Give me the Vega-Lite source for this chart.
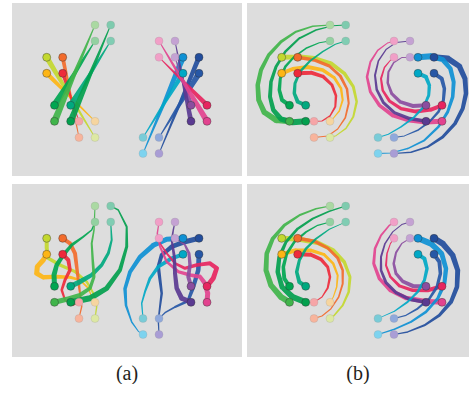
{
"$schema":"https://vega.github.io/schema/vega-lite/v6.json",
"padding":{"left":12,"top":3,"right":0,"bottom":0},
"config":{"view":{"fill":"#dddddd","stroke":null}},
"datasets":{
"nodes":[
{"id":"A","k":"s","x":34.7,"y":54.3},{"id":"B","k":"s","x":50.7,"y":54.3},{"id":"C","k":"s","x":34.7,"y":70.3},{"id":"D","k":"s","x":50.7,"y":70.3},
{"id":"E","k":"s","x":42.5,"y":102.3},{"id":"F","k":"s","x":58.7,"y":102.3},{"id":"G","k":"s","x":42.5,"y":118.3},{"id":"H","k":"s","x":58.7,"y":118.3},
{"id":"a","k":"f","x":83,"y":134.5},{"id":"b","k":"f","x":67,"y":134.5},{"id":"c","k":"f","x":83,"y":118.3},{"id":"d","k":"f","x":67,"y":118.3},
{"id":"e","k":"f","x":83,"y":38},{"id":"f","k":"f","x":98.7,"y":38},{"id":"g","k":"f","x":83,"y":22},{"id":"h","k":"f","x":98.7,"y":22},
{"id":"I","k":"s","x":171,"y":54.3},{"id":"J","k":"s","x":187,"y":54.3},{"id":"K","k":"s","x":171,"y":70.3},{"id":"L","k":"s","x":187,"y":70.3},
{"id":"M","k":"s","x":179,"y":102.3},{"id":"N","k":"s","x":195,"y":102.3},{"id":"O","k":"s","x":179,"y":118.3},{"id":"P","k":"s","x":195,"y":118.3},
{"id":"i","k":"f","x":131,"y":150.5},{"id":"j","k":"f","x":147,"y":150.5},{"id":"k","k":"f","x":131,"y":134.5},{"id":"l","k":"f","x":147,"y":134.5},
{"id":"m","k":"f","x":163,"y":38},{"id":"n","k":"f","x":147,"y":38},{"id":"o","k":"f","x":163,"y":54.3},{"id":"p","k":"f","x":147,"y":54.3}
],
"edges":[
{"p":"TL","e":"A","o":0,"x":34.7,"y":54.3,"w":5.5},{"p":"TL","e":"A","o":1,"x":83,"y":134.5,"w":0.8},
{"p":"TL","e":"B","o":0,"x":50.7,"y":54.3,"w":4},{"p":"TL","e":"B","o":1,"x":67,"y":134.5,"w":0.8},
{"p":"TL","e":"C","o":0,"x":34.7,"y":70.3,"w":4.5},{"p":"TL","e":"C","o":1,"x":83,"y":118.3,"w":0.8},
{"p":"TL","e":"D","o":0,"x":50.7,"y":70.3,"w":3.5},{"p":"TL","e":"D","o":1,"x":67,"y":118.3,"w":0.8},
{"p":"TL","e":"E","o":0,"x":42.5,"y":102.3,"w":7},{"p":"TL","e":"E","o":1,"x":83,"y":38,"w":0.8},
{"p":"TL","e":"F","o":0,"x":58.7,"y":102.3,"w":6},{"p":"TL","e":"F","o":1,"x":98.7,"y":38,"w":0.8},
{"p":"TL","e":"G","o":0,"x":42.5,"y":118.3,"w":7},{"p":"TL","e":"G","o":1,"x":83,"y":22,"w":0.8},
{"p":"TL","e":"H","o":0,"x":58.7,"y":118.3,"w":6.5},{"p":"TL","e":"H","o":1,"x":98.7,"y":22,"w":0.8},
{"p":"TL","e":"I","o":0,"x":171,"y":54.3,"w":6},{"p":"TL","e":"I","o":1,"x":131,"y":150.5,"w":0.8},
{"p":"TL","e":"J","o":0,"x":187,"y":54.3,"w":5},{"p":"TL","e":"J","o":1,"x":147,"y":150.5,"w":0.8},
{"p":"TL","e":"K","o":0,"x":171,"y":70.3,"w":5},{"p":"TL","e":"K","o":1,"x":131,"y":134.5,"w":0.8},
{"p":"TL","e":"L","o":0,"x":187,"y":70.3,"w":6},{"p":"TL","e":"L","o":1,"x":147,"y":134.5,"w":0.8},
{"p":"TL","e":"M","o":0,"x":179,"y":102.3,"w":5},{"p":"TL","e":"M","o":1,"x":163,"y":54.3,"w":0.8},
{"p":"TL","e":"N","o":0,"x":195,"y":102.3,"w":5},{"p":"TL","e":"N","o":1,"x":147,"y":54.3,"w":0.8},
{"p":"TL","e":"O","o":0,"x":179,"y":118.3,"w":5},{"p":"TL","e":"O","o":1,"x":163,"y":38,"w":0.8},
{"p":"TL","e":"P","o":0,"x":195,"y":118.3,"w":6},{"p":"TL","e":"P","o":1,"x":147,"y":38,"w":0.8},

{"p":"TR","e":"A","o":0,"x":34.7,"y":54.3,"w":5},{"p":"TR","e":"A","o":1,"x":50.7,"y":53.7,"w":5},{"p":"TR","e":"A","o":2,"x":67.3,"y":55.3,"w":4.5},{"p":"TR","e":"A","o":3,"x":84,"y":60.3,"w":4},{"p":"TR","e":"A","o":4,"x":97.3,"y":70.3,"w":3.5},{"p":"TR","e":"A","o":5,"x":106.3,"y":83.7,"w":3},{"p":"TR","e":"A","o":6,"x":109.7,"y":98.7,"w":2.5},{"p":"TR","e":"A","o":7,"x":106.3,"y":113.7,"w":2},{"p":"TR","e":"A","o":8,"x":99,"y":125.3,"w":1.5},{"p":"TR","e":"A","o":9,"x":89,"y":132.7,"w":1},{"p":"TR","e":"A","o":10,"x":83,"y":134.5,"w":0.8},
{"p":"TR","e":"B","o":0,"x":50.7,"y":54.3,"w":3.5},{"p":"TR","e":"B","o":1,"x":67.3,"y":57,"w":3.5},{"p":"TR","e":"B","o":2,"x":82.3,"y":63,"w":3},{"p":"TR","e":"B","o":3,"x":93.3,"y":73,"w":3},{"p":"TR","e":"B","o":4,"x":100,"y":86,"w":2.5},{"p":"TR","e":"B","o":5,"x":101.7,"y":100.3,"w":2},{"p":"TR","e":"B","o":6,"x":98.3,"y":114.7,"w":1.6},{"p":"TR","e":"B","o":7,"x":90.7,"y":126,"w":1.2},{"p":"TR","e":"B","o":8,"x":80.7,"y":133,"w":1},{"p":"TR","e":"B","o":9,"x":67,"y":134.5,"w":0.8},
{"p":"TR","e":"C","o":0,"x":34.7,"y":70.3,"w":4},{"p":"TR","e":"C","o":1,"x":45.7,"y":66,"w":4},{"p":"TR","e":"C","o":2,"x":60.7,"y":64,"w":4},{"p":"TR","e":"C","o":3,"x":75.7,"y":67,"w":3.5},{"p":"TR","e":"C","o":4,"x":87.3,"y":74.7,"w":3},{"p":"TR","e":"C","o":5,"x":94,"y":85.3,"w":2.5},{"p":"TR","e":"C","o":6,"x":95.7,"y":97,"w":2},{"p":"TR","e":"C","o":7,"x":92.3,"y":108,"w":1.5},{"p":"TR","e":"C","o":8,"x":86.3,"y":115.3,"w":1},{"p":"TR","e":"C","o":9,"x":83,"y":118.3,"w":0.8},
{"p":"TR","e":"D","o":0,"x":50.7,"y":70.3,"w":4},{"p":"TR","e":"D","o":1,"x":64,"y":69.7,"w":4},{"p":"TR","e":"D","o":2,"x":76.3,"y":73.7,"w":3.5},{"p":"TR","e":"D","o":3,"x":85,"y":82,"w":3},{"p":"TR","e":"D","o":4,"x":89,"y":92.7,"w":2.5},{"p":"TR","e":"D","o":5,"x":88.3,"y":103.7,"w":2},{"p":"TR","e":"D","o":6,"x":83,"y":113,"w":1.5},{"p":"TR","e":"D","o":7,"x":75,"y":118,"w":1},{"p":"TR","e":"D","o":8,"x":67,"y":118.3,"w":0.8},
{"p":"TR","e":"E","o":0,"x":42.5,"y":102.3,"w":4},{"p":"TR","e":"E","o":1,"x":35,"y":97,"w":4},{"p":"TR","e":"E","o":2,"x":32.3,"y":87,"w":3.5},{"p":"TR","e":"E","o":3,"x":33.3,"y":75.3,"w":3},{"p":"TR","e":"E","o":4,"x":38.3,"y":63.7,"w":2.5},{"p":"TR","e":"E","o":5,"x":47.3,"y":53.7,"w":2},{"p":"TR","e":"E","o":6,"x":59,"y":45.3,"w":1.5},{"p":"TR","e":"E","o":7,"x":72.3,"y":39.7,"w":1},{"p":"TR","e":"E","o":8,"x":83,"y":38,"w":0.8},
{"p":"TR","e":"F","o":0,"x":58.7,"y":102.3,"w":4},{"p":"TR","e":"F","o":1,"x":50.7,"y":98.7,"w":4},{"p":"TR","e":"F","o":2,"x":47.3,"y":90.3,"w":3.5},{"p":"TR","e":"F","o":3,"x":48,"y":80.3,"w":3},{"p":"TR","e":"F","o":4,"x":53,"y":68.7,"w":2.5},{"p":"TR","e":"F","o":5,"x":63,"y":58,"w":2},{"p":"TR","e":"F","o":6,"x":75.7,"y":48.7,"w":1.5},{"p":"TR","e":"F","o":7,"x":88.3,"y":41.3,"w":1},{"p":"TR","e":"F","o":8,"x":98.7,"y":38,"w":0.8},
{"p":"TR","e":"G","o":0,"x":42.5,"y":118.3,"w":6},{"p":"TR","e":"G","o":1,"x":29,"y":117,"w":6},{"p":"TR","e":"G","o":2,"x":17.3,"y":109.3,"w":5.5},{"p":"TR","e":"G","o":3,"x":11.7,"y":97,"w":5},{"p":"TR","e":"G","o":4,"x":10.7,"y":82,"w":4.5},{"p":"TR","e":"G","o":5,"x":14,"y":67,"w":4},{"p":"TR","e":"G","o":6,"x":21.7,"y":52,"w":3.5},{"p":"TR","e":"G","o":7,"x":34,"y":38.7,"w":3},{"p":"TR","e":"G","o":8,"x":49,"y":28.7,"w":2},{"p":"TR","e":"G","o":9,"x":65.7,"y":23.3,"w":1.5},{"p":"TR","e":"G","o":10,"x":83,"y":22,"w":1},
{"p":"TR","e":"H","o":0,"x":58.7,"y":118.3,"w":6},{"p":"TR","e":"H","o":1,"x":45.7,"y":119.3,"w":6},{"p":"TR","e":"H","o":2,"x":34,"y":116,"w":5},{"p":"TR","e":"H","o":3,"x":26.3,"y":107,"w":4.5},{"p":"TR","e":"H","o":4,"x":23,"y":93.7,"w":4},{"p":"TR","e":"H","o":5,"x":24,"y":78.7,"w":3.5},{"p":"TR","e":"H","o":6,"x":29,"y":63.7,"w":3},{"p":"TR","e":"H","o":7,"x":38.3,"y":48.7,"w":2.5},{"p":"TR","e":"H","o":8,"x":52.3,"y":35.3,"w":2},{"p":"TR","e":"H","o":9,"x":69,"y":27,"w":1.5},{"p":"TR","e":"H","o":10,"x":85.7,"y":22.7,"w":1},{"p":"TR","e":"H","o":11,"x":98.7,"y":22,"w":0.8},
{"p":"TR","e":"P","o":0,"x":195,"y":118.3,"w":5},{"p":"TR","e":"P","o":1,"x":179,"y":118.9,"w":5},{"p":"TR","e":"P","o":2,"x":162.4,"y":117.3,"w":4.5},{"p":"TR","e":"P","o":3,"x":145.7,"y":112.3,"w":4},{"p":"TR","e":"P","o":4,"x":132.4,"y":102.3,"w":3.5},{"p":"TR","e":"P","o":5,"x":123.4,"y":88.9,"w":3},{"p":"TR","e":"P","o":6,"x":120,"y":73.9,"w":2.5},{"p":"TR","e":"P","o":7,"x":123.4,"y":58.9,"w":2},{"p":"TR","e":"P","o":8,"x":130.7,"y":47.3,"w":1.5},{"p":"TR","e":"P","o":9,"x":140.7,"y":39.9,"w":1},{"p":"TR","e":"P","o":10,"x":147,"y":38,"w":0.8},
{"p":"TR","e":"O","o":0,"x":179,"y":118.3,"w":3.5},{"p":"TR","e":"O","o":1,"x":162.4,"y":115.6,"w":3.5},{"p":"TR","e":"O","o":2,"x":147.4,"y":109.6,"w":3},{"p":"TR","e":"O","o":3,"x":136.4,"y":99.6,"w":3},{"p":"TR","e":"O","o":4,"x":129.7,"y":86.6,"w":2.5},{"p":"TR","e":"O","o":5,"x":128,"y":72.3,"w":2},{"p":"TR","e":"O","o":6,"x":131.4,"y":57.9,"w":1.6},{"p":"TR","e":"O","o":7,"x":139,"y":46.6,"w":1.2},{"p":"TR","e":"O","o":8,"x":149,"y":39.6,"w":1},{"p":"TR","e":"O","o":9,"x":163,"y":38,"w":0.8},
{"p":"TR","e":"N","o":0,"x":195,"y":102.3,"w":4},{"p":"TR","e":"N","o":1,"x":184,"y":106.6,"w":4},{"p":"TR","e":"N","o":2,"x":169,"y":108.6,"w":4},{"p":"TR","e":"N","o":3,"x":154,"y":105.6,"w":3.5},{"p":"TR","e":"N","o":4,"x":142.4,"y":97.9,"w":3},{"p":"TR","e":"N","o":5,"x":135.7,"y":87.3,"w":2.5},{"p":"TR","e":"N","o":6,"x":134,"y":75.6,"w":2},{"p":"TR","e":"N","o":7,"x":137.4,"y":64.6,"w":1.5},{"p":"TR","e":"N","o":8,"x":143.4,"y":57.3,"w":1},{"p":"TR","e":"N","o":9,"x":147,"y":54.3,"w":0.8},
{"p":"TR","e":"M","o":0,"x":179,"y":102.3,"w":4},{"p":"TR","e":"M","o":1,"x":165.7,"y":102.9,"w":4},{"p":"TR","e":"M","o":2,"x":153.4,"y":98.9,"w":3.5},{"p":"TR","e":"M","o":3,"x":144.7,"y":90.6,"w":3},{"p":"TR","e":"M","o":4,"x":140.7,"y":79.9,"w":2.5},{"p":"TR","e":"M","o":5,"x":141.4,"y":68.9,"w":2},{"p":"TR","e":"M","o":6,"x":146.7,"y":59.6,"w":1.5},{"p":"TR","e":"M","o":7,"x":154.7,"y":54.6,"w":1},{"p":"TR","e":"M","o":8,"x":163,"y":54.3,"w":0.8},
{"p":"TR","e":"L","o":0,"x":187,"y":70.3,"w":4},{"p":"TR","e":"L","o":1,"x":194.7,"y":75.6,"w":4},{"p":"TR","e":"L","o":2,"x":197.4,"y":85.6,"w":3.5},{"p":"TR","e":"L","o":3,"x":196.4,"y":97.3,"w":3},{"p":"TR","e":"L","o":4,"x":191.4,"y":108.9,"w":2.5},{"p":"TR","e":"L","o":5,"x":182.4,"y":118.9,"w":2},{"p":"TR","e":"L","o":6,"x":170.7,"y":127.3,"w":1.5},{"p":"TR","e":"L","o":7,"x":157.4,"y":132.9,"w":1},{"p":"TR","e":"L","o":8,"x":147,"y":134.5,"w":0.8},
{"p":"TR","e":"K","o":0,"x":171,"y":70.3,"w":4},{"p":"TR","e":"K","o":1,"x":179,"y":73.9,"w":4},{"p":"TR","e":"K","o":2,"x":182.4,"y":82.3,"w":3.5},{"p":"TR","e":"K","o":3,"x":181.7,"y":92.3,"w":3},{"p":"TR","e":"K","o":4,"x":176.7,"y":103.9,"w":2.5},{"p":"TR","e":"K","o":5,"x":166.7,"y":114.6,"w":2},{"p":"TR","e":"K","o":6,"x":154,"y":123.9,"w":1.5},{"p":"TR","e":"K","o":7,"x":141.4,"y":131.3,"w":1},{"p":"TR","e":"K","o":8,"x":131,"y":134.5,"w":0.8},
{"p":"TR","e":"J","o":0,"x":187,"y":54.3,"w":6},{"p":"TR","e":"J","o":1,"x":200.7,"y":55.6,"w":6},{"p":"TR","e":"J","o":2,"x":212.4,"y":63.3,"w":5.5},{"p":"TR","e":"J","o":3,"x":218,"y":75.6,"w":5},{"p":"TR","e":"J","o":4,"x":219,"y":90.6,"w":4.5},{"p":"TR","e":"J","o":5,"x":215.7,"y":105.6,"w":4},{"p":"TR","e":"J","o":6,"x":208,"y":120.6,"w":3.5},{"p":"TR","e":"J","o":7,"x":195.7,"y":133.9,"w":3},{"p":"TR","e":"J","o":8,"x":180.7,"y":143.9,"w":2},{"p":"TR","e":"J","o":9,"x":164,"y":149.3,"w":1.5},{"p":"TR","e":"J","o":10,"x":147,"y":150.5,"w":1},
{"p":"TR","e":"I","o":0,"x":171,"y":54.3,"w":6},{"p":"TR","e":"I","o":1,"x":184,"y":53.3,"w":6},{"p":"TR","e":"I","o":2,"x":195.7,"y":56.6,"w":5},{"p":"TR","e":"I","o":3,"x":203.4,"y":65.6,"w":4.5},{"p":"TR","e":"I","o":4,"x":206.7,"y":78.9,"w":4},{"p":"TR","e":"I","o":5,"x":205.7,"y":93.9,"w":3.5},{"p":"TR","e":"I","o":6,"x":200.7,"y":108.9,"w":3},{"p":"TR","e":"I","o":7,"x":191.4,"y":123.9,"w":2.5},{"p":"TR","e":"I","o":8,"x":177.4,"y":137.3,"w":2},{"p":"TR","e":"I","o":9,"x":160.7,"y":145.6,"w":1.5},{"p":"TR","e":"I","o":10,"x":144,"y":149.9,"w":1},{"p":"TR","e":"I","o":11,"x":131,"y":150.5,"w":0.8},

{"p":"BR","e":"A","o":0,"x":34.7,"y":54.3,"w":5},{"p":"BR","e":"A","o":1,"x":52.3,"y":55.3,"w":5},{"p":"BR","e":"A","o":2,"x":70.7,"y":58.7,"w":4.5},{"p":"BR","e":"A","o":3,"x":86.3,"y":66.3,"w":4},{"p":"BR","e":"A","o":4,"x":97.3,"y":78,"w":3.5},{"p":"BR","e":"A","o":5,"x":103,"y":93,"w":3},{"p":"BR","e":"A","o":6,"x":101.7,"y":108,"w":2.5},{"p":"BR","e":"A","o":7,"x":95.7,"y":121.3,"w":2},{"p":"BR","e":"A","o":8,"x":87.3,"y":131.3,"w":1.5},{"p":"BR","e":"A","o":9,"x":83,"y":134.5,"w":1},
{"p":"BR","e":"B","o":0,"x":50.7,"y":54.3,"w":3.5},{"p":"BR","e":"B","o":1,"x":67.3,"y":57.3,"w":3.5},{"p":"BR","e":"B","o":2,"x":80.7,"y":64,"w":3},{"p":"BR","e":"B","o":3,"x":90.7,"y":74,"w":3},{"p":"BR","e":"B","o":4,"x":95.7,"y":86.3,"w":2.5},{"p":"BR","e":"B","o":5,"x":95.7,"y":99.7,"w":2},{"p":"BR","e":"B","o":6,"x":91.7,"y":113,"w":1.6},{"p":"BR","e":"B","o":7,"x":84,"y":124.7,"w":1.2},{"p":"BR","e":"B","o":8,"x":75,"y":132,"w":1},{"p":"BR","e":"B","o":9,"x":67,"y":134.5,"w":0.8},
{"p":"BR","e":"C","o":0,"x":34.7,"y":70.3,"w":4},{"p":"BR","e":"C","o":1,"x":49,"y":66.3,"w":4},{"p":"BR","e":"C","o":2,"x":64,"y":66.3,"w":3.5},{"p":"BR","e":"C","o":3,"x":77.3,"y":70.7,"w":3},{"p":"BR","e":"C","o":4,"x":86.3,"y":79.7,"w":2.5},{"p":"BR","e":"C","o":5,"x":90.7,"y":91.3,"w":2},{"p":"BR","e":"C","o":6,"x":89.7,"y":103,"w":1.5},{"p":"BR","e":"C","o":7,"x":86.3,"y":113,"w":1},{"p":"BR","e":"C","o":8,"x":83,"y":118.3,"w":0.8},
{"p":"BR","e":"D","o":0,"x":50.7,"y":70.3,"w":4},{"p":"BR","e":"D","o":1,"x":64,"y":70.7,"w":4},{"p":"BR","e":"D","o":2,"x":74,"y":75.3,"w":3.5},{"p":"BR","e":"D","o":3,"x":80.7,"y":83,"w":3},{"p":"BR","e":"D","o":4,"x":83,"y":93,"w":2.5},{"p":"BR","e":"D","o":5,"x":80.7,"y":104,"w":2},{"p":"BR","e":"D","o":6,"x":75,"y":113,"w":1.2},{"p":"BR","e":"D","o":7,"x":67,"y":118.3,"w":0.8},
{"p":"BR","e":"E","o":0,"x":42.5,"y":102.3,"w":4},{"p":"BR","e":"E","o":1,"x":37.3,"y":94.7,"w":4},{"p":"BR","e":"E","o":2,"x":36.3,"y":83,"w":3.5},{"p":"BR","e":"E","o":3,"x":39.7,"y":69.7,"w":3},{"p":"BR","e":"E","o":4,"x":47.3,"y":58,"w":2.5},{"p":"BR","e":"E","o":5,"x":59,"y":48,"w":2},{"p":"BR","e":"E","o":6,"x":70.7,"y":41.3,"w":1.2},{"p":"BR","e":"E","o":7,"x":83,"y":38,"w":0.8},
{"p":"BR","e":"F","o":0,"x":58.7,"y":102.3,"w":4},{"p":"BR","e":"F","o":1,"x":52.3,"y":98,"w":4},{"p":"BR","e":"F","o":2,"x":49.7,"y":88,"w":3.5},{"p":"BR","e":"F","o":3,"x":52.3,"y":76.3,"w":3},{"p":"BR","e":"F","o":4,"x":59,"y":64.7,"w":2.5},{"p":"BR","e":"F","o":5,"x":69,"y":54.7,"w":2},{"p":"BR","e":"F","o":6,"x":82.3,"y":45.3,"w":1.2},{"p":"BR","e":"F","o":7,"x":98.7,"y":38,"w":0.8},
{"p":"BR","e":"G","o":0,"x":42.5,"y":118.3,"w":6},{"p":"BR","e":"G","o":1,"x":34,"y":113,"w":6},{"p":"BR","e":"G","o":2,"x":24,"y":101.3,"w":5.5},{"p":"BR","e":"G","o":3,"x":19,"y":86.3,"w":5},{"p":"BR","e":"G","o":4,"x":19.7,"y":69.7,"w":4.5},{"p":"BR","e":"G","o":5,"x":25.7,"y":54.7,"w":4},{"p":"BR","e":"G","o":6,"x":37.3,"y":41.3,"w":3},{"p":"BR","e":"G","o":7,"x":52.3,"y":31.3,"w":2},{"p":"BR","e":"G","o":8,"x":69,"y":24.7,"w":1.5},{"p":"BR","e":"G","o":9,"x":83,"y":22,"w":1},
{"p":"BR","e":"H","o":0,"x":58.7,"y":118.3,"w":6},{"p":"BR","e":"H","o":1,"x":45.7,"y":113,"w":6},{"p":"BR","e":"H","o":2,"x":35,"y":103,"w":5},{"p":"BR","e":"H","o":3,"x":30.7,"y":88,"w":4.5},{"p":"BR","e":"H","o":4,"x":32.3,"y":73,"w":4},{"p":"BR","e":"H","o":5,"x":39,"y":58,"w":3},{"p":"BR","e":"H","o":6,"x":50.7,"y":44.7,"w":2.5},{"p":"BR","e":"H","o":7,"x":65.7,"y":34.7,"w":2},{"p":"BR","e":"H","o":8,"x":82.3,"y":27.3,"w":1.5},{"p":"BR","e":"H","o":9,"x":98.7,"y":22,"w":1},
{"p":"BR","e":"P","o":0,"x":195,"y":118.3,"w":5},{"p":"BR","e":"P","o":1,"x":177.4,"y":117.3,"w":5},{"p":"BR","e":"P","o":2,"x":159,"y":113.9,"w":4.5},{"p":"BR","e":"P","o":3,"x":143.4,"y":106.3,"w":4},{"p":"BR","e":"P","o":4,"x":132.4,"y":94.6,"w":3.5},{"p":"BR","e":"P","o":5,"x":126.7,"y":79.6,"w":3},{"p":"BR","e":"P","o":6,"x":128,"y":64.6,"w":2.5},{"p":"BR","e":"P","o":7,"x":134,"y":51.3,"w":2},{"p":"BR","e":"P","o":8,"x":142.4,"y":41.3,"w":1.5},{"p":"BR","e":"P","o":9,"x":147,"y":38,"w":1},
{"p":"BR","e":"O","o":0,"x":179,"y":118.3,"w":3.5},{"p":"BR","e":"O","o":1,"x":162.4,"y":115.3,"w":3.5},{"p":"BR","e":"O","o":2,"x":149,"y":108.6,"w":3},{"p":"BR","e":"O","o":3,"x":139,"y":98.6,"w":3},{"p":"BR","e":"O","o":4,"x":134,"y":86.3,"w":2.5},{"p":"BR","e":"O","o":5,"x":134,"y":72.9,"w":2},{"p":"BR","e":"O","o":6,"x":138,"y":59.6,"w":1.6},{"p":"BR","e":"O","o":7,"x":145.7,"y":47.9,"w":1.2},{"p":"BR","e":"O","o":8,"x":154.7,"y":40.6,"w":1},{"p":"BR","e":"O","o":9,"x":163,"y":38,"w":0.8},
{"p":"BR","e":"N","o":0,"x":195,"y":102.3,"w":4},{"p":"BR","e":"N","o":1,"x":180.7,"y":106.3,"w":4},{"p":"BR","e":"N","o":2,"x":165.7,"y":106.3,"w":3.5},{"p":"BR","e":"N","o":3,"x":152.4,"y":101.9,"w":3},{"p":"BR","e":"N","o":4,"x":143.4,"y":92.9,"w":2.5},{"p":"BR","e":"N","o":5,"x":139,"y":81.3,"w":2},{"p":"BR","e":"N","o":6,"x":140,"y":69.6,"w":1.5},{"p":"BR","e":"N","o":7,"x":143.4,"y":59.6,"w":1},{"p":"BR","e":"N","o":8,"x":147,"y":54.3,"w":0.8},
{"p":"BR","e":"M","o":0,"x":179,"y":102.3,"w":4},{"p":"BR","e":"M","o":1,"x":165.7,"y":101.9,"w":4},{"p":"BR","e":"M","o":2,"x":155.7,"y":97.3,"w":3.5},{"p":"BR","e":"M","o":3,"x":149,"y":89.6,"w":3},{"p":"BR","e":"M","o":4,"x":146.7,"y":79.6,"w":2.5},{"p":"BR","e":"M","o":5,"x":149,"y":68.6,"w":2},{"p":"BR","e":"M","o":6,"x":154.7,"y":59.6,"w":1.2},{"p":"BR","e":"M","o":7,"x":163,"y":54.3,"w":0.8},
{"p":"BR","e":"L","o":0,"x":187,"y":70.3,"w":4},{"p":"BR","e":"L","o":1,"x":192.4,"y":77.9,"w":4},{"p":"BR","e":"L","o":2,"x":193.4,"y":89.6,"w":3.5},{"p":"BR","e":"L","o":3,"x":190,"y":102.9,"w":3},{"p":"BR","e":"L","o":4,"x":182.4,"y":114.6,"w":2.5},{"p":"BR","e":"L","o":5,"x":170.7,"y":124.6,"w":2},{"p":"BR","e":"L","o":6,"x":159,"y":131.3,"w":1.2},{"p":"BR","e":"L","o":7,"x":147,"y":134.5,"w":0.8},
{"p":"BR","e":"K","o":0,"x":171,"y":70.3,"w":4},{"p":"BR","e":"K","o":1,"x":177.4,"y":74.6,"w":4},{"p":"BR","e":"K","o":2,"x":180,"y":84.6,"w":3.5},{"p":"BR","e":"K","o":3,"x":177.4,"y":96.3,"w":3},{"p":"BR","e":"K","o":4,"x":170.7,"y":107.9,"w":2.5},{"p":"BR","e":"K","o":5,"x":160.7,"y":117.9,"w":2},{"p":"BR","e":"K","o":6,"x":147.4,"y":127.3,"w":1.2},{"p":"BR","e":"K","o":7,"x":131,"y":134.5,"w":0.8},
{"p":"BR","e":"J","o":0,"x":187,"y":54.3,"w":6},{"p":"BR","e":"J","o":1,"x":195.7,"y":59.6,"w":6},{"p":"BR","e":"J","o":2,"x":205.7,"y":71.3,"w":5.5},{"p":"BR","e":"J","o":3,"x":210.7,"y":86.3,"w":5},{"p":"BR","e":"J","o":4,"x":210,"y":102.9,"w":4.5},{"p":"BR","e":"J","o":5,"x":204,"y":117.9,"w":4},{"p":"BR","e":"J","o":6,"x":192.4,"y":131.3,"w":3},{"p":"BR","e":"J","o":7,"x":177.4,"y":141.3,"w":2},{"p":"BR","e":"J","o":8,"x":160.7,"y":147.9,"w":1.5},{"p":"BR","e":"J","o":9,"x":147,"y":150.5,"w":1},
{"p":"BR","e":"I","o":0,"x":171,"y":54.3,"w":6},{"p":"BR","e":"I","o":1,"x":184,"y":59.6,"w":6},{"p":"BR","e":"I","o":2,"x":194.7,"y":69.6,"w":5},{"p":"BR","e":"I","o":3,"x":199,"y":84.6,"w":4.5},{"p":"BR","e":"I","o":4,"x":197.4,"y":99.6,"w":4},{"p":"BR","e":"I","o":5,"x":190.7,"y":114.6,"w":3},{"p":"BR","e":"I","o":6,"x":179,"y":127.9,"w":2.5},{"p":"BR","e":"I","o":7,"x":164,"y":137.9,"w":2},{"p":"BR","e":"I","o":8,"x":147.4,"y":145.3,"w":1.5},{"p":"BR","e":"I","o":9,"x":131,"y":150.5,"w":1},

{"p":"BL","e":"A","o":0,"x":34.7,"y":54.3,"w":4},{"p":"BL","e":"A","o":1,"x":34.7,"y":64.3,"w":4},{"p":"BL","e":"A","o":2,"x":36.3,"y":74.3,"w":3.5},{"p":"BL","e":"A","o":3,"x":48,"y":81,"w":3.5},{"p":"BL","e":"A","o":4,"x":63,"y":87.7,"w":3},{"p":"BL","e":"A","o":5,"x":74.7,"y":97.7,"w":2.5},{"p":"BL","e":"A","o":6,"x":81.3,"y":109.3,"w":2},{"p":"BL","e":"A","o":7,"x":84.7,"y":122.7,"w":1.5},{"p":"BL","e":"A","o":8,"x":83,"y":134.5,"w":1},
{"p":"BL","e":"C","o":0,"x":34.7,"y":70.3,"w":5},{"p":"BL","e":"C","o":1,"x":31.3,"y":76,"w":5},{"p":"BL","e":"C","o":2,"x":25.3,"y":82.7,"w":5},{"p":"BL","e":"C","o":3,"x":24.7,"y":89.3,"w":5},{"p":"BL","e":"C","o":4,"x":31.3,"y":93.3,"w":4.5},{"p":"BL","e":"C","o":5,"x":44.7,"y":92.7,"w":4},{"p":"BL","e":"C","o":6,"x":58,"y":93.3,"w":3},{"p":"BL","e":"C","o":7,"x":68,"y":96,"w":2},{"p":"BL","e":"C","o":8,"x":76.3,"y":104.3,"w":1.5},{"p":"BL","e":"C","o":9,"x":79.7,"y":112.7,"w":1},{"p":"BL","e":"C","o":10,"x":83,"y":118.3,"w":0.8},
{"p":"BL","e":"B","o":0,"x":50.7,"y":54.3,"w":4},{"p":"BL","e":"B","o":1,"x":58,"y":59.3,"w":4},{"p":"BL","e":"B","o":2,"x":63,"y":69.3,"w":4},{"p":"BL","e":"B","o":3,"x":64.7,"y":82.7,"w":3.5},{"p":"BL","e":"B","o":4,"x":66.3,"y":96,"w":3},{"p":"BL","e":"B","o":5,"x":68,"y":109.3,"w":2},{"p":"BL","e":"B","o":6,"x":69.7,"y":122.7,"w":1.5},{"p":"BL","e":"B","o":7,"x":67,"y":134.5,"w":1},
{"p":"BL","e":"D","o":0,"x":50.7,"y":70.3,"w":4},{"p":"BL","e":"D","o":1,"x":56.3,"y":76,"w":4},{"p":"BL","e":"D","o":2,"x":58,"y":86,"w":3.5},{"p":"BL","e":"D","o":3,"x":53,"y":96,"w":3},{"p":"BL","e":"D","o":4,"x":49.7,"y":106,"w":2.5},{"p":"BL","e":"D","o":5,"x":53,"y":116,"w":2},{"p":"BL","e":"D","o":6,"x":61.3,"y":121,"w":1.5},{"p":"BL","e":"D","o":7,"x":67,"y":118.3,"w":1},
{"p":"BL","e":"E","o":0,"x":42.5,"y":102.3,"w":5},{"p":"BL","e":"E","o":1,"x":42,"y":91,"w":5},{"p":"BL","e":"E","o":2,"x":44.7,"y":81,"w":4.5},{"p":"BL","e":"E","o":3,"x":51.3,"y":71,"w":4},{"p":"BL","e":"E","o":4,"x":59.7,"y":61,"w":3},{"p":"BL","e":"E","o":5,"x":71.3,"y":52.7,"w":2},{"p":"BL","e":"E","o":6,"x":79.7,"y":46,"w":1.5},{"p":"BL","e":"E","o":7,"x":83,"y":38,"w":1},
{"p":"BL","e":"F","o":0,"x":58.7,"y":102.3,"w":5},{"p":"BL","e":"F","o":1,"x":68,"y":97.7,"w":5},{"p":"BL","e":"F","o":2,"x":79.7,"y":91,"w":4},{"p":"BL","e":"F","o":3,"x":89.7,"y":81,"w":3.5},{"p":"BL","e":"F","o":4,"x":96.3,"y":69.3,"w":3},{"p":"BL","e":"F","o":5,"x":99.7,"y":56,"w":2},{"p":"BL","e":"F","o":6,"x":98.7,"y":38,"w":1},
{"p":"BL","e":"G","o":0,"x":42.5,"y":118.3,"w":5},{"p":"BL","e":"G","o":1,"x":54.7,"y":115.3,"w":5},{"p":"BL","e":"G","o":2,"x":68,"y":111,"w":4},{"p":"BL","e":"G","o":3,"x":78,"y":104.3,"w":3.5},{"p":"BL","e":"G","o":4,"x":82,"y":92.7,"w":3},{"p":"BL","e":"G","o":5,"x":80.7,"y":76,"w":2.5},{"p":"BL","e":"G","o":6,"x":79.7,"y":59.3,"w":2},{"p":"BL","e":"G","o":7,"x":82,"y":46,"w":1.5},{"p":"BL","e":"G","o":8,"x":83,"y":22,"w":1},
{"p":"BL","e":"H","o":0,"x":58.7,"y":118.3,"w":6},{"p":"BL","e":"H","o":1,"x":78,"y":114.3,"w":6},{"p":"BL","e":"H","o":2,"x":94.7,"y":104.3,"w":5},{"p":"BL","e":"H","o":3,"x":108,"y":86,"w":4},{"p":"BL","e":"H","o":4,"x":114.7,"y":62.7,"w":3},{"p":"BL","e":"H","o":5,"x":114.7,"y":42.7,"w":2},{"p":"BL","e":"H","o":6,"x":106.3,"y":26,"w":1.5},{"p":"BL","e":"H","o":7,"x":98.7,"y":22,"w":1},
{"p":"BL","e":"I","o":0,"x":171,"y":54.3,"w":5},{"p":"BL","e":"I","o":1,"x":154.7,"y":55.3,"w":5},{"p":"BL","e":"I","o":2,"x":141.3,"y":61.3,"w":5},{"p":"BL","e":"I","o":3,"x":128,"y":73,"w":4.5},{"p":"BL","e":"I","o":4,"x":118,"y":88,"w":4},{"p":"BL","e":"I","o":5,"x":113,"y":104.7,"w":3.5},{"p":"BL","e":"I","o":6,"x":114,"y":121.3,"w":2.5},{"p":"BL","e":"I","o":7,"x":119.7,"y":138,"w":1.5},{"p":"BL","e":"I","o":8,"x":126.3,"y":147.3,"w":1},{"p":"BL","e":"I","o":9,"x":131,"y":150.5,"w":0.8},
{"p":"BL","e":"J","o":0,"x":187,"y":54.3,"w":5},{"p":"BL","e":"J","o":1,"x":173,"y":57.7,"w":5},{"p":"BL","e":"J","o":2,"x":159.7,"y":62.7,"w":4.5},{"p":"BL","e":"J","o":3,"x":149.7,"y":71,"w":4},{"p":"BL","e":"J","o":4,"x":146.3,"y":82.7,"w":3.5},{"p":"BL","e":"J","o":5,"x":148,"y":96,"w":3},{"p":"BL","e":"J","o":6,"x":149.7,"y":109.3,"w":2.5},{"p":"BL","e":"J","o":7,"x":148,"y":122.7,"w":2},{"p":"BL","e":"J","o":8,"x":146.3,"y":136,"w":1.5},{"p":"BL","e":"J","o":9,"x":147,"y":150.5,"w":1},
{"p":"BL","e":"K","o":0,"x":171,"y":70.3,"w":4},{"p":"BL","e":"K","o":1,"x":159.7,"y":74.3,"w":4},{"p":"BL","e":"K","o":2,"x":146.3,"y":82.7,"w":3.5},{"p":"BL","e":"K","o":3,"x":138,"y":94.3,"w":3},{"p":"BL","e":"K","o":4,"x":133,"y":107.7,"w":2},{"p":"BL","e":"K","o":5,"x":129.7,"y":119.3,"w":1.5},{"p":"BL","e":"K","o":6,"x":131,"y":134.5,"w":1},
{"p":"BL","e":"L","o":0,"x":187,"y":70.3,"w":5},{"p":"BL","e":"L","o":1,"x":186.3,"y":86,"w":4.5},{"p":"BL","e":"L","o":2,"x":181.3,"y":103,"w":4},{"p":"BL","e":"L","o":3,"x":176,"y":117,"w":3},{"p":"BL","e":"L","o":4,"x":163,"y":123,"w":2},{"p":"BL","e":"L","o":5,"x":153,"y":128.7,"w":1.5},{"p":"BL","e":"L","o":6,"x":147,"y":134.5,"w":1},
{"p":"BL","e":"N","o":0,"x":195,"y":102.3,"w":5},{"p":"BL","e":"N","o":1,"x":201.3,"y":94.3,"w":5},{"p":"BL","e":"N","o":2,"x":204.7,"y":84.3,"w":4.5},{"p":"BL","e":"N","o":3,"x":198,"y":79.3,"w":4},{"p":"BL","e":"N","o":4,"x":184.7,"y":81,"w":3.5},{"p":"BL","e":"N","o":5,"x":173,"y":84.3,"w":3},{"p":"BL","e":"N","o":6,"x":163,"y":79.3,"w":2.5},{"p":"BL","e":"N","o":7,"x":154.7,"y":69.3,"w":2},{"p":"BL","e":"N","o":8,"x":148,"y":59.3,"w":1.5},{"p":"BL","e":"N","o":9,"x":147,"y":54.3,"w":1},
{"p":"BL","e":"P","o":0,"x":195,"y":118.3,"w":5},{"p":"BL","e":"P","o":1,"x":195.7,"y":109.3,"w":5},{"p":"BL","e":"P","o":2,"x":193,"y":99.3,"w":4.5},{"p":"BL","e":"P","o":3,"x":188,"y":92.7,"w":4},{"p":"BL","e":"P","o":4,"x":178,"y":91,"w":3.5},{"p":"BL","e":"P","o":5,"x":166.3,"y":87.7,"w":3},{"p":"BL","e":"P","o":6,"x":154.7,"y":77.7,"w":2.5},{"p":"BL","e":"P","o":7,"x":148,"y":62.7,"w":2},{"p":"BL","e":"P","o":8,"x":145.3,"y":49.3,"w":1.5},{"p":"BL","e":"P","o":9,"x":147,"y":38,"w":1},
{"p":"BL","e":"O","o":0,"x":179,"y":118.3,"w":5},{"p":"BL","e":"O","o":1,"x":169.7,"y":114.3,"w":5},{"p":"BL","e":"O","o":2,"x":164.7,"y":104.3,"w":4.5},{"p":"BL","e":"O","o":3,"x":163,"y":89.3,"w":4},{"p":"BL","e":"O","o":4,"x":162.3,"y":72.7,"w":3},{"p":"BL","e":"O","o":5,"x":159.7,"y":56,"w":2},{"p":"BL","e":"O","o":6,"x":161.3,"y":46,"w":1.5},{"p":"BL","e":"O","o":7,"x":163,"y":38,"w":1},
{"p":"BL","e":"M","o":0,"x":179,"y":102.3,"w":4},{"p":"BL","e":"M","o":1,"x":176.3,"y":92.7,"w":4},{"p":"BL","e":"M","o":2,"x":178,"y":81,"w":3.5},{"p":"BL","e":"M","o":3,"x":177,"y":69.3,"w":3},{"p":"BL","e":"M","o":4,"x":173,"y":61,"w":2},{"p":"BL","e":"M","o":5,"x":166.3,"y":56,"w":1.5},{"p":"BL","e":"M","o":6,"x":163,"y":54.3,"w":1}
]
},
"spacing":8,
"vconcat":[
{"spacing":5,"hconcat":[
{"width":230,"height":173,
 "encoding":{"x":{"field":"x","type":"quantitative","axis":null,"scale":{"domain":[0,230],"nice":false,"zero":false}},"y":{"field":"y","type":"quantitative","axis":null,"scale":{"domain":[0,173],"nice":false,"zero":false,"reverse":true}},
 "color":{"field":"e","type":"nominal","legend":null,"scale":{"domain":["A","B","C","D","E","F","G","H","I","J","K","L","M","N","O","P","a","b","c","d","e","f","g","h","i","j","k","l","m","n","o","p"],"range":["#c3d82f","#f26b2b","#fdb515","#ee2a3b","#00a651","#00a97f","#40b44a","#03a04e","#0e90d4","#224d9c","#00a8c6","#2657a6","#8b4d9f","#e7255f","#5a3a91","#e2438f","#dde8a3","#f8b49c","#f6d59f","#f6a5a7","#93d1a1","#80cdb3","#aad9a2","#7ecbae","#7dd3ef","#a99dd5","#79ccd8","#8fa9dc","#c4a2d3","#f19fc7","#c4a2d3","#f19fc7"]}}},
 "layer":[
  {"data":{"name":"edges"},"transform":[{"filter":"datum.p=='TL'"}],"mark":{"type":"trail","opacity":0.92},"encoding":{"order":{"field":"o","type":"quantitative"},"size":{"field":"w","type":"quantitative","legend":null,"scale":{"domain":[0,10],"range":[0,10]}}}},
  {"data":{"name":"nodes"},"transform":[{"filter":"datum.k=='f'"},{"calculate":"datum.id","as":"e"}],"mark":{"type":"circle","size":64,"opacity":1,"stroke":"#999999","strokeWidth":0.5,"strokeOpacity":0.5}},
  {"data":{"name":"nodes"},"transform":[{"filter":"datum.k=='s'"},{"calculate":"datum.id","as":"e"}],"mark":{"type":"circle","size":64,"opacity":1,"stroke":"#333333","strokeWidth":0.7,"strokeOpacity":0.6}}
 ]},
{"width":222,"height":173,
 "encoding":{"x":{"field":"x","type":"quantitative","axis":null,"scale":{"domain":[0,222],"nice":false,"zero":false}},"y":{"field":"y","type":"quantitative","axis":null,"scale":{"domain":[0,173],"nice":false,"zero":false,"reverse":true}},
 "color":{"field":"e","type":"nominal","legend":null,"scale":{"domain":["A","B","C","D","E","F","G","H","I","J","K","L","M","N","O","P","a","b","c","d","e","f","g","h","i","j","k","l","m","n","o","p"],"range":["#c3d82f","#f26b2b","#fdb515","#ee2a3b","#00a651","#00a97f","#40b44a","#03a04e","#0e90d4","#224d9c","#00a8c6","#2657a6","#8b4d9f","#e7255f","#5a3a91","#e2438f","#dde8a3","#f8b49c","#f6d59f","#f6a5a7","#93d1a1","#80cdb3","#aad9a2","#7ecbae","#7dd3ef","#a99dd5","#79ccd8","#8fa9dc","#c4a2d3","#f19fc7","#c4a2d3","#f19fc7"]}}},
 "layer":[
  {"data":{"name":"edges"},"transform":[{"filter":"datum.p=='TR'"}],"mark":{"type":"trail","opacity":0.92},"encoding":{"order":{"field":"o","type":"quantitative"},"size":{"field":"w","type":"quantitative","legend":null,"scale":{"domain":[0,10],"range":[0,10]}}}},
  {"data":{"name":"nodes"},"transform":[{"filter":"datum.k=='f'"},{"calculate":"datum.id","as":"e"}],"mark":{"type":"circle","size":64,"opacity":1,"stroke":"#999999","strokeWidth":0.5,"strokeOpacity":0.5}},
  {"data":{"name":"nodes"},"transform":[{"filter":"datum.k=='s'"},{"calculate":"datum.id","as":"e"}],"mark":{"type":"circle","size":64,"opacity":1,"stroke":"#333333","strokeWidth":0.7,"strokeOpacity":0.6}}
 ]}
]},
{"spacing":5,"hconcat":[
{"width":230,"height":173,
 "title":{"text":"(a)","orient":"bottom","font":"Liberation Serif","fontSize":20,"fontWeight":"normal","color":"#231f20","offset":7},
 "encoding":{"x":{"field":"x","type":"quantitative","axis":null,"scale":{"domain":[0,230],"nice":false,"zero":false}},"y":{"field":"y","type":"quantitative","axis":null,"scale":{"domain":[0,173],"nice":false,"zero":false,"reverse":true}},
 "color":{"field":"e","type":"nominal","legend":null,"scale":{"domain":["A","B","C","D","E","F","G","H","I","J","K","L","M","N","O","P","a","b","c","d","e","f","g","h","i","j","k","l","m","n","o","p"],"range":["#c3d82f","#f26b2b","#fdb515","#ee2a3b","#00a651","#00a97f","#40b44a","#03a04e","#0e90d4","#224d9c","#00a8c6","#2657a6","#8b4d9f","#e7255f","#5a3a91","#e2438f","#dde8a3","#f8b49c","#f6d59f","#f6a5a7","#93d1a1","#80cdb3","#aad9a2","#7ecbae","#7dd3ef","#a99dd5","#79ccd8","#8fa9dc","#c4a2d3","#f19fc7","#c4a2d3","#f19fc7"]}}},
 "layer":[
  {"data":{"name":"edges"},"transform":[{"filter":"datum.p=='BL'"}],"mark":{"type":"trail","opacity":0.92},"encoding":{"order":{"field":"o","type":"quantitative"},"size":{"field":"w","type":"quantitative","legend":null,"scale":{"domain":[0,10],"range":[0,10]}}}},
  {"data":{"name":"nodes"},"transform":[{"filter":"datum.k=='f'"},{"calculate":"datum.id","as":"e"}],"mark":{"type":"circle","size":64,"opacity":1,"stroke":"#999999","strokeWidth":0.5,"strokeOpacity":0.5}},
  {"data":{"name":"nodes"},"transform":[{"filter":"datum.k=='s'"},{"calculate":"datum.id","as":"e"}],"mark":{"type":"circle","size":64,"opacity":1,"stroke":"#333333","strokeWidth":0.7,"strokeOpacity":0.6}}
 ]},
{"width":222,"height":173,
 "title":{"text":"(b)","orient":"bottom","font":"Liberation Serif","fontSize":20,"fontWeight":"normal","color":"#231f20","offset":7},
 "encoding":{"x":{"field":"x","type":"quantitative","axis":null,"scale":{"domain":[0,222],"nice":false,"zero":false}},"y":{"field":"y","type":"quantitative","axis":null,"scale":{"domain":[0,173],"nice":false,"zero":false,"reverse":true}},
 "color":{"field":"e","type":"nominal","legend":null,"scale":{"domain":["A","B","C","D","E","F","G","H","I","J","K","L","M","N","O","P","a","b","c","d","e","f","g","h","i","j","k","l","m","n","o","p"],"range":["#c3d82f","#f26b2b","#fdb515","#ee2a3b","#00a651","#00a97f","#40b44a","#03a04e","#0e90d4","#224d9c","#00a8c6","#2657a6","#8b4d9f","#e7255f","#5a3a91","#e2438f","#dde8a3","#f8b49c","#f6d59f","#f6a5a7","#93d1a1","#80cdb3","#aad9a2","#7ecbae","#7dd3ef","#a99dd5","#79ccd8","#8fa9dc","#c4a2d3","#f19fc7","#c4a2d3","#f19fc7"]}}},
 "layer":[
  {"data":{"name":"edges"},"transform":[{"filter":"datum.p=='BR'"}],"mark":{"type":"trail","opacity":0.92},"encoding":{"order":{"field":"o","type":"quantitative"},"size":{"field":"w","type":"quantitative","legend":null,"scale":{"domain":[0,10],"range":[0,10]}}}},
  {"data":{"name":"nodes"},"transform":[{"filter":"datum.k=='f'"},{"calculate":"datum.id","as":"e"}],"mark":{"type":"circle","size":64,"opacity":1,"stroke":"#999999","strokeWidth":0.5,"strokeOpacity":0.5}},
  {"data":{"name":"nodes"},"transform":[{"filter":"datum.k=='s'"},{"calculate":"datum.id","as":"e"}],"mark":{"type":"circle","size":64,"opacity":1,"stroke":"#333333","strokeWidth":0.7,"strokeOpacity":0.6}}
 ]}
]}
]
}
